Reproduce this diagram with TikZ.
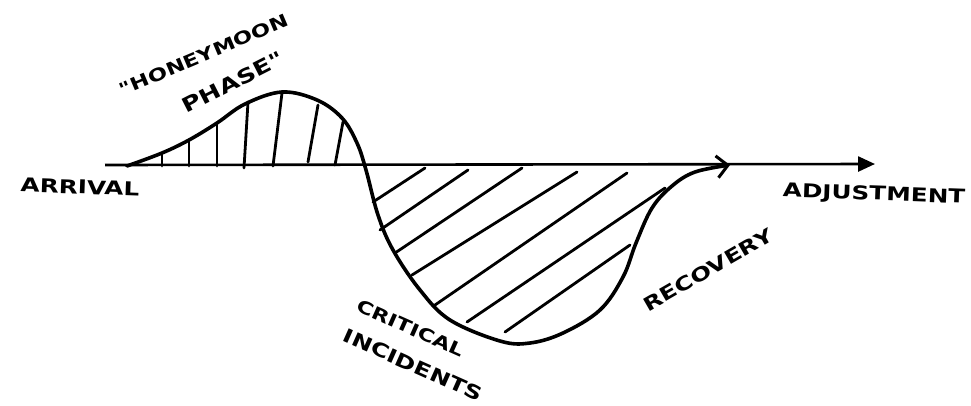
\documentclass[tikz,border=0pt]{standalone}
\usepackage{fontspec}
\setmainfont{DejaVu Sans}
\newfontfamily\handfont[FakeStretch=1.3]{DejaVu Sans}
\usetikzlibrary{arrows.meta}
\tikzset{
    lbl/.style={font=\handfont\bfseries\fontsize{19}{19}\selectfont, inner sep=0pt, text=black},
    smalllbl/.style={lbl, font=\handfont\bfseries\fontsize{17.5}{17.5}\selectfont},
    curve/.style={line width=3.6pt, line cap=round, line join=round, draw=black},
    axis/.style={line width=2.6pt, draw=black, -{Triangle[length=17pt, width=15pt]}},
    hatch/.style={line width=2.8pt, line cap=round, draw=black}
}
\begin{document}
\begin{tikzpicture}[x=1pt, y=-1pt]
    \useasboundingbox (0,0) rectangle (971,405);
    % axis
    \coordinate (start) at (105,165);
    \coordinate (stop) at (875,164);
    \draw[axis] (start) -- (stop);
    % hatching, upper hump
    \foreach \xa/\ya/\xb/\yb in {162/166/162/153, 189/166/189/140, 217/166/217/123, 244/168/248/102,
            273/166/282/93, 308/162/318/105, 335/165/343/122}
        \draw[hatch] (\xa,\ya) -- (\xb,\yb);
    % hatching, lower trough
    \foreach \xa/\ya/\xb/\yb in {373/202/425/168, 380/230/468/170, 395/253/522/168, 412/275/577/172,
            435/305/627/173, 467/322/665/188, 505/332/630/245}
        \draw[hatch] (\xa,\ya) -- (\xb,\yb);
    % the curve
    \draw[curve, -{Straight Barb[length=11pt, width=22pt, line width=3pt]}]
        plot[smooth, tension=0.6] coordinates {(127,166) (162,153) (189,140) (217,123) (245,104)
            (282,92) (317,100) (342,118) (357,143) (366,170) (378,215) (393,250) (420,290)
            (450,320) (500,341) (530,343) (563,333) (600,310) (623,277) (636,243) (652,208)
            (672,186) (695,172) (730,165)};
    % labels
    \node[lbl, rotate=-2] (arrival) at (80,187) {ARRIVAL};
    \node[lbl, rotate=-2] (adjust) at (874,195) {ADJUSTMENT};
    \node[smalllbl, rotate=23] (honey) at (204,55) {"HONEYMOON};
    \node[lbl, rotate=27, font=\handfont\bfseries\fontsize{20}{20}\selectfont] (phase) at (233,82) {PHASE"};
    \node[smalllbl, rotate=-24] (critical) at (411,328) {CRITICAL};
    \node[lbl, rotate=-24] (incid) at (413,365) {INCIDENTS};
    \node[lbl, rotate=30] (recov) at (708,270) {RECOVERY};
\end{tikzpicture}
\end{document}
